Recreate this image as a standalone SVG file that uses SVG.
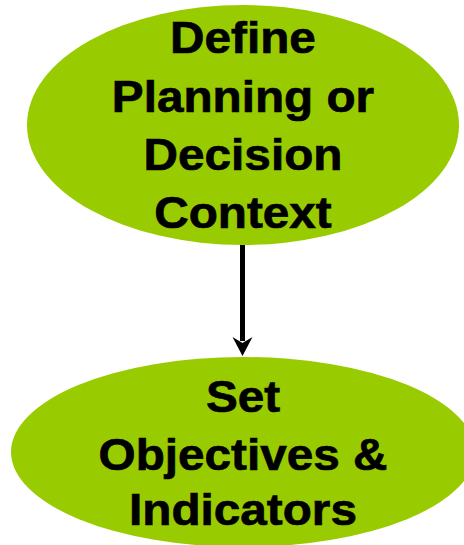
<svg xmlns="http://www.w3.org/2000/svg" width="464" height="545" viewBox="0 0 464 545">
<style>
.node{fill:#99CC00;stroke:none}
.lbl{font-family:"Liberation Sans",Arial,sans-serif;font-weight:bold;font-size:45px;fill:#000;stroke:#000;stroke-width:0.7;text-anchor:middle}
.conn{stroke:#000;stroke-width:5;fill:none}
.head{fill:#000}
</style>
<rect width="464" height="545" fill="#fff"/>
<g id="connectors">
<line class="conn" x1="242.5" y1="244" x2="242.5" y2="341"/>
<path class="head" d="M232.5,337 L242.5,343 L252.5,337 L242.5,356 Z"/>
</g>
<g id="node-define">
<ellipse class="node" cx="243" cy="125" rx="216" ry="120"/>
<g transform="translate(243,0) scale(1.06,1)">
<text class="lbl" x="0" y="53">Define</text>
<text class="lbl" x="0" y="112.5">Planning or</text>
<text class="lbl" x="0" y="170.5">Decision</text>
<text class="lbl" x="0" y="228">Context</text>
</g>
</g>
<g id="node-objectives">
<ellipse class="node" cx="243" cy="452" rx="232" ry="95"/>
<g transform="translate(243,0) scale(1.06,1)">
<text class="lbl" x="0" y="412">Set</text>
<text class="lbl" x="0" y="470">Objectives &amp;</text>
<text class="lbl" x="0" y="525">Indicators</text>
</g>
</g>
</svg>
